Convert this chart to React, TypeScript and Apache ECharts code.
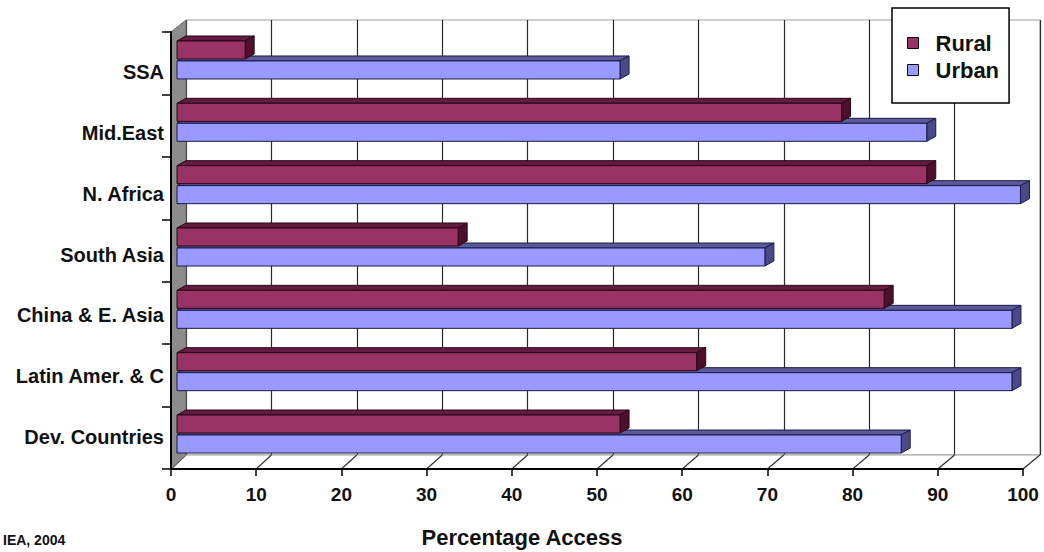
import React, { useEffect, useRef } from "react";
import * as echarts from "echarts";

// Regions listed top to bottom (the category axes are inverted)
const categories = [
  "SSA",
  "Mid.East",
  "N. Africa",
  "South Asia",
  "China & E. Asia",
  "Latin Amer. & C",
  "Dev. Countries",
];
const rural = [8, 78, 88, 33, 83, 61, 52];
const urban = [52, 88, 99, 69, 98, 98, 85];
const seriesNames = ["Rural", "Urban"];
const axisTitle = "Percentage Access";
const sourceNote = "IEA, 2004";
const xMin = 0;
const xMax = 100;
const xStep = 10;

// Pseudo-3D box: front edge, back wall and the mid-depth plane of the bars
const FRONT = { left: 171, right: 1023, top: 32, bottom: 469 };
const BACK = { left: 186, right: 1040, top: 20, bottom: 455 };
const BARS = { left: 177, right: 1029, top: 28.8, bottom: 465.2 };
const LABELS = { top: 41.6, bottom: 467.4 };

const DEPTH_X = 9;
const DEPTH_Y = -5;
const BAR_H = 18;
const BAR_GAP = 1;
const FONT = "Liberation Sans, Arial, Helvetica, sans-serif";

const W = 1044;
const H = 552;

function barRenderer(side: number, face: string, top: string, end: string, edge: string) {
  return (_params: any, api: any) => {
    const v = api.value(0);
    const c = api.value(1);
    const start = api.coord([0, c]);
    const stop = api.coord([v, c]);
    const x0 = start[0];
    const x1 = stop[0];
    const cy = start[1];
    const y0 = side < 0 ? cy - BAR_GAP - BAR_H : cy + BAR_GAP;
    const y1 = y0 + BAR_H;
    const line = { stroke: edge, lineWidth: 1 };
    return {
      type: "group",
      children: [
        {
          type: "polygon",
          shape: { points: [[x0, y0], [x0 + DEPTH_X, y0 + DEPTH_Y], [x1 + DEPTH_X, y0 + DEPTH_Y], [x1, y0]] },
          style: { fill: top, ...line },
        },
        {
          type: "polygon",
          shape: { points: [[x1, y0], [x1 + DEPTH_X, y0 + DEPTH_Y], [x1 + DEPTH_X, y1 + DEPTH_Y], [x1, y1]] },
          style: { fill: end, ...line },
        },
        {
          type: "rect",
          shape: { x: x0, y: y0, width: x1 - x0, height: BAR_H },
          style: { fill: face, ...line },
        },
      ],
    };
  };
}

function buildOption(): any {
  const steps = (xMax - xMin) / xStep;
  const floorLines: any[] = [];
  for (let k = 0; k <= steps; k++) {
    const fx = FRONT.left + ((FRONT.right - FRONT.left) * k) / steps;
    const bx = BACK.left + ((BACK.right - BACK.left) * k) / steps;
    floorLines.push({
      type: "line",
      z: 2,
      shape: { x1: fx, y1: FRONT.bottom, x2: bx, y2: BACK.bottom },
      style: { stroke: "#333", lineWidth: 1.2 },
    });
  }

  const hiddenValueAxis = (gridIndex: number) => ({
    type: "value",
    gridIndex,
    min: xMin,
    max: xMax,
    interval: xStep,
    show: false,
  });

  return {
    animation: false,
    backgroundColor: "#ffffff",
    textStyle: { fontFamily: FONT },
    title: {
      text: axisTitle,
      left: "center",
      top: 521,
      textStyle: { fontSize: 22, fontWeight: "bold", color: "#111", fontFamily: FONT },
    },
    legend: {
      data: seriesNames,
      orient: "vertical",
      left: 892,
      top: 8,
      padding: [24, 10, 22, 15],
      itemWidth: 11,
      itemHeight: 11,
      itemGap: 5,
      icon: "rect",
      selectedMode: false,
      backgroundColor: "#ffffff",
      borderColor: "#000",
      borderWidth: 1.5,
      itemStyle: { borderColor: "#000", borderWidth: 1 },
      textStyle: {
        fontSize: 22,
        fontWeight: "bold",
        color: "#111",
        fontFamily: FONT,
        lineHeight: 22,
        padding: [0, 0, 0, 12],
      },
      z: 20,
    },
    grid: [
      // back wall with its gridlines
      {
        left: BACK.left,
        top: BACK.top,
        width: BACK.right - BACK.left,
        height: BACK.bottom - BACK.top,
        show: true,
        backgroundColor: "#ffffff",
        borderColor: "#9a9a9a",
        borderWidth: 1,
        z: 0,
      },
      // plane of the bars
      {
        left: BARS.left,
        top: BARS.top,
        width: BARS.right - BARS.left,
        height: BARS.bottom - BARS.top,
      },
      // front axes
      {
        left: FRONT.left,
        top: FRONT.top,
        width: FRONT.right - FRONT.left,
        height: FRONT.bottom - FRONT.top,
      },
      // category labels
      {
        left: FRONT.left,
        top: LABELS.top,
        width: FRONT.right - FRONT.left,
        height: LABELS.bottom - LABELS.top,
      },
    ],
    xAxis: [
      {
        type: "value",
        gridIndex: 0,
        min: xMin,
        max: xMax,
        interval: xStep,
        axisLine: { show: false },
        axisTick: { show: false },
        axisLabel: { show: false },
        splitLine: { show: true, lineStyle: { color: "#2a2a2a", width: 1.2 } },
        z: 0,
      },
      hiddenValueAxis(1),
      {
        type: "value",
        gridIndex: 2,
        min: xMin,
        max: xMax,
        interval: xStep,
        axisLine: { show: true, onZero: false, lineStyle: { color: "#000", width: 2 } },
        axisTick: { show: true, length: 7, lineStyle: { color: "#000", width: 1.5 } },
        axisLabel: { show: true, fontSize: 19, fontWeight: "bold", color: "#111", margin: 16, fontFamily: FONT },
        splitLine: { show: false },
        z: 10,
      },
      hiddenValueAxis(3),
    ],
    yAxis: [
      { type: "category", gridIndex: 0, data: categories, inverse: true, show: false },
      { type: "category", gridIndex: 1, data: categories, inverse: true, show: false },
      {
        type: "category",
        gridIndex: 2,
        data: categories,
        inverse: true,
        axisLine: { show: true, onZero: false, lineStyle: { color: "#000", width: 2 } },
        axisTick: { show: true, length: 9, lineStyle: { color: "#000", width: 1.5 } },
        axisLabel: { show: false },
        splitLine: { show: false },
        z: 10,
      },
      {
        type: "category",
        gridIndex: 3,
        data: categories,
        inverse: true,
        axisLine: { show: false },
        axisTick: { show: false },
        axisLabel: { show: true, fontSize: 20, fontWeight: "bold", color: "#111", margin: 7, fontFamily: FONT },
        splitLine: { show: false },
      },
    ],
    graphic: [
      // floor
      {
        type: "polygon",
        z: 1,
        shape: {
          points: [
            [FRONT.left, FRONT.bottom],
            [BACK.left, BACK.bottom],
            [BACK.right, BACK.bottom],
            [FRONT.right, FRONT.bottom],
          ],
        },
        style: { fill: "#ffffff", stroke: "#a0a0a0", lineWidth: 1 },
      },
      ...floorLines,
      // left side wall
      {
        type: "polygon",
        z: 2,
        shape: {
          points: [
            [FRONT.left, FRONT.top],
            [BACK.left, BACK.top],
            [BACK.left, BACK.bottom],
            [FRONT.left, FRONT.bottom],
          ],
        },
        style: { fill: "#8c8c8c", stroke: "#6a6a6a", lineWidth: 1 },
      },
      // source note, bottom left
      {
        type: "text",
        z: 5,
        left: 3,
        top: 533,
        style: { text: sourceNote, font: `bold 14px ${FONT}`, fill: "#111" },
      },
    ],
    series: [
      {
        name: "Urban",
        type: "custom",
        xAxisIndex: 1,
        yAxisIndex: 1,
        z: 4,
        clip: false,
        itemStyle: { color: "#9999ff" },
        encode: { x: 0, y: 1 },
        data: urban.map((v, i) => [v, i]),
        renderItem: barRenderer(1, "#9999ff", "#5a5a98", "#4a4a88", "#1a1a4a"),
      },
      {
        name: "Rural",
        type: "custom",
        xAxisIndex: 1,
        yAxisIndex: 1,
        z: 4,
        clip: false,
        itemStyle: { color: "#993366" },
        encode: { x: 0, y: 1 },
        data: rural.map((v, i) => [v, i]),
        renderItem: barRenderer(-1, "#993366", "#621c40", "#4c0f2e", "#2a0616"),
      },
    ],
  };
}

export default function App() {
  const ref = useRef<HTMLDivElement>(null);
  useEffect(() => {
    if (!ref.current) return;
    const chart = echarts.init(ref.current, null, { renderer: "svg" });
    chart.setOption(buildOption());
    return () => chart.dispose();
  }, []);
  return (
    <div
      ref={ref}
      style={{ position: "absolute", left: 0, top: 0, width: W, height: H, background: "#fff" }}
    />
  );
}
